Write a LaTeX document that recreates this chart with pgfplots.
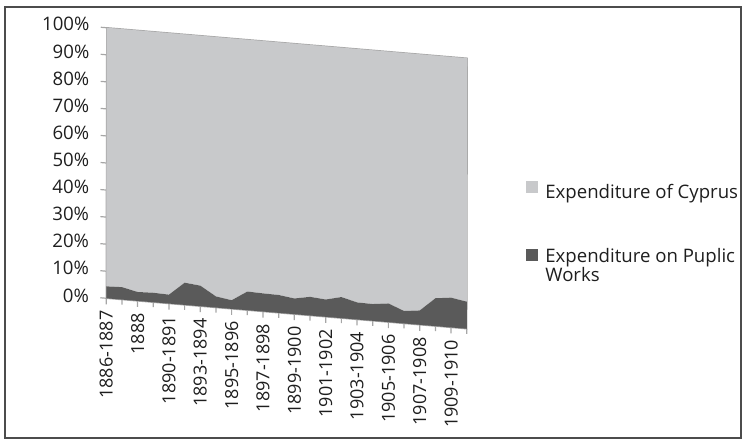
\documentclass[border=0pt]{standalone}
\usepackage{pgfplots}
\usepackage{pgfplotstable}
\pgfplotsset{compat=1.18}
\usepackage{fontspec}
\setmainfont{Open Sans}

\definecolor{worksgray}{HTML}{5A5A5A}
\definecolor{cyprusgray}{HTML}{C8C9CB}
\definecolor{edgegray}{HTML}{A6A6A6}
\definecolor{textgray}{HTML}{1E1E1E}

% Share of total expenditure (percent), one row per financial year
\pgfplotstableread{
idx base works cyprus
0  0 4.4  95.6
1  0 4.6  95.4
2  0 3.3  96.7
3  0 3.5  96.5
4  0 3.3  96.7
5  0 8.2  91.8
6  0 7.6  92.4
7  0 4.1  95.9
8  0 3.2  96.8
9  0 6.9  93.1
10 0 6.7  93.3
11 0 6.6  93.4
12 0 5.8  94.2
13 0 6.9  93.1
14 0 6.4  93.6
15 0 7.8  92.2
16 0 6.3  93.7
17 0 6.2  93.8
18 0 6.9  93.1
19 0 4.6  95.4
20 0 5.3  94.7
21 0 10.3 89.7
22 0 11.0 89.0
23 0 10.0 90.0
}\expdata

\newcommand{\chartfont}{\fontsize{9.3pt}{9.4pt}\selectfont}
\newcommand{\yearfont}{\fontsize{9pt}{10pt}\selectfont}

\begin{document}
\begin{tikzpicture}
\useasboundingbox (0pt,0pt) rectangle (373.5pt,-223pt);
\draw[black!70, line width=0.6pt] (2.5pt,-3.5pt) rectangle (370.5pt,-219pt);
\begin{axis}[
  anchor=origin, at={(53.125pt,-149.125pt)},
  x={(7.837pt,-0.663pt)}, y={(0.0025pt,1.3525pt)},
  xmin=0, xmax=23, ymin=0, ymax=100,
  stack plots=y,
  axis line style={edgegray, line width=0.7pt},
  tick style={edgegray, line width=0.6pt},
  tick align=outside,
  xtick pos=left, ytick pos=left,
  major tick length=3pt, minor tick length=2.5pt,
  xtick={0,2,...,22},
  minor xtick={1,3,...,23},
  xticklabels={1886-1887,1888,1890-1891,1893-1894,1895-1896,1897-1898,1899-1900,1901-1902,1903-1904,1905-1906,1907-1908,1909-1910},
  ytick={0,10,...,100},
  yticklabels={0\%,10\%,20\%,30\%,40\%,50\%,60\%,70\%,80\%,90\%,100\%},
  xticklabel style={rotate=90, anchor=east, inner xsep=3pt, font=\yearfont, text=textgray},
  yticklabel style={inner xsep=5.5pt, font=\chartfont, text=textgray},
  reverse legend,
  legend cell align=left,
  legend image code/.code={\fill[#1] (0pt,0pt) rectangle (6pt,6pt);},
  legend style={at={(axis cs:26.76,56.5)}, anchor=north west, draw=none, fill=none,
    inner sep=0pt, nodes={inner sep=0.5pt},
    /tikz/every odd column/.append style={column sep=3pt},
    font=\chartfont, text=textgray, row sep=22pt},
]
% zero baseline so the first area closes along the sloping floor
\addplot[draw=none, forget plot] table[x=idx, y=base] {\expdata};
\addplot[fill=worksgray, draw=none, legend image post style={yshift=-2.5pt}]
  table[x=idx, y=works] {\expdata} \closedcycle;
\addlegendentry{\begin{tabular}[t]{@{}l@{}}Expenditure on Puplic\\Works\end{tabular}}
\addplot[fill=cyprusgray, draw=none] table[x=idx, y=cyprus] {\expdata} \closedcycle;
\addlegendentry{Expenditure of Cyprus}
\end{axis}
\end{tikzpicture}
\end{document}
